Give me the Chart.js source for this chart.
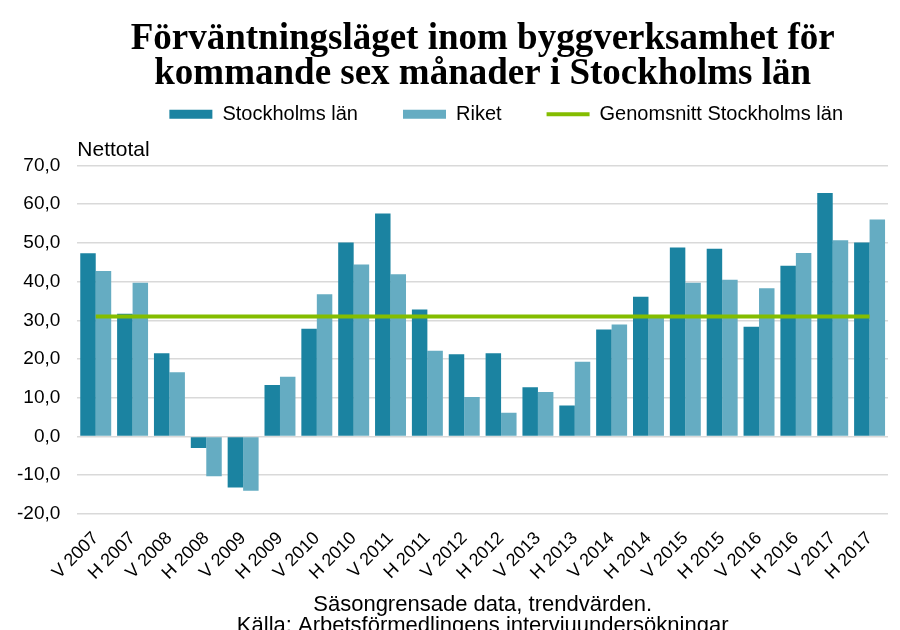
<!DOCTYPE html>
<html lang="sv">
<head>
<meta charset="utf-8">
<title>Förväntningsläget inom byggverksamhet</title>
<script src="https://cdn.jsdelivr.net/npm/chart.js@4"></script>
<style>
  html, body { margin: 0; padding: 0; background: #fff; }
  #wrap { width: 900px; height: 630px; position: relative; }
</style>
</head>
<body>
<div id="wrap"><canvas id="byggChart"></canvas></div>
<script>
"use strict";

// halvår: V = vår, H = höst
const periods = [
  "V 2007", "H 2007", "V 2008", "H 2008", "V 2009", "H 2009",
  "V 2010", "H 2010", "V 2011", "H 2011", "V 2012", "H 2012",
  "V 2013", "H 2013", "V 2014", "H 2014", "V 2015", "H 2015",
  "V 2016", "H 2016", "V 2017", "H 2017",
];
const stockholm = [
  47.3, 31.7, 21.5, -3.0, -13.2, 13.3,
  27.8, 50.1, 57.6, 32.8, 21.2, 21.5,
  12.7, 8.0, 27.6, 36.1, 48.8, 48.5,
  28.3, 44.1, 62.9, 50.1,
];
const riket = [
  42.7, 39.7, 16.6, -10.3, -14.0, 15.4,
  36.7, 44.4, 41.9, 22.1, 10.2, 6.1,
  11.5, 19.3, 28.9, 31.2, 39.7, 40.5,
  38.3, 47.4, 50.7, 56.0,
];
const genomsnitt = [
  31.0, 31.0, 31.0, 31.0, 31.0, 31.0,
  31.0, 31.0, 31.0, 31.0, 31.0, 31.0,
  31.0, 31.0, 31.0, 31.0, 31.0, 31.0,
  31.0, 31.0, 31.0, 31.0,
];
const yTicks = [-20, -10, 0, 10, 20, 30, 40, 50, 60, 70];

const sansFont = "'Liberation Sans', Arial, sans-serif";
const ctx = document.getElementById("byggChart").getContext("2d");

new Chart(ctx, {
  type: "bar",
  data: {
    labels: periods,
    datasets: [
      {
        label: "Stockholms län",
        data: stockholm,
        backgroundColor: "#1b83a1",
        categoryPercentage: 0.84,
        barPercentage: 1.0,
        order: 2,
      },
      {
        label: "Riket",
        data: riket,
        backgroundColor: "#65acc2",
        categoryPercentage: 0.84,
        barPercentage: 1.0,
        order: 2,
      },
      {
        type: "line",
        label: "Genomsnitt Stockholms län",
        data: genomsnitt,
        borderColor: "#84bd00",
        backgroundColor: "#84bd00",
        borderWidth: 4,
        pointRadius: 0,
        fill: false,
        order: 1,
      },
    ],
  },
  options: {
    responsive: true,
    maintainAspectRatio: false,
    animation: false,
    layout: { padding: { left: 0, right: 12, top: 10, bottom: 0 } },
    plugins: {
      title: {
        display: true,
        fullSize: false,
        text: ["Förväntningsläget inom byggverksamhet för", "kommande sex månader i Stockholms län"],
        color: "#000",
        font: { family: "'Liberation Serif', 'Times New Roman', serif", size: 37, weight: "bold", lineHeight: 0.95 },
        padding: { top: 12, bottom: -33 },
      },
      subtitle: {
        display: true,
        text: "Nettotal",
        align: "start",
        fullSize: false,
        weight: 500,
        color: "#000",
        font: { family: sansFont, size: 21, lineHeight: 1.1 },
        padding: { top: 4, bottom: 4 },
      },
      legend: {
        position: "top",
        align: "end",
        fullSize: false,
        labels: {
          color: "#000",
          font: { family: sansFont, size: 20 },
          usePointStyle: true,
          pointStyleWidth: 43,
          boxHeight: 9,
          padding: 45,
          sort: (a, b) => a.datasetIndex - b.datasetIndex,
          generateLabels: function (chart) {
            const items = Chart.defaults.plugins.legend.labels.generateLabels(chart);
            items.forEach(function (item) {
              const ds = chart.data.datasets[item.datasetIndex];
              if (ds.type === "line") {
                item.pointStyle = "line";
                item.strokeStyle = ds.borderColor;
                item.lineWidth = 4;
              } else {
                item.pointStyle = "rect";
                item.lineWidth = 0;
              }
            });
            return items;
          },
        },
      },
      tooltip: { enabled: false },
    },
    scales: {
      x: {
        grid: { display: false },
        border: { display: false },
        ticks: {
          color: "#000",
          font: { family: sansFont, size: 18 },
          maxRotation: 45,
          minRotation: 45,
          autoSkip: false,
          padding: 6,
        },
        title: {
          display: true,
          text: ["Säsongrensade data, trendvärden.", "Källa: Arbetsförmedlingens intervjuundersökningar"],
          color: "#000",
          font: { family: sansFont, size: 22, lineHeight: 0.95 },
          padding: { top: 4, bottom: -6 },
        },
      },
      y: {
        min: -20,
        max: 70,
        afterBuildTicks: function (axis) {
          axis.ticks = yTicks.map((v) => ({ value: v }));
        },
        grid: { color: "#d9d9d9", lineWidth: 1.5, drawTicks: false },
        border: { display: false },
        ticks: {
          color: "#000",
          padding: 17,
          font: { family: sansFont, size: 19 },
          callback: (v) => v.toFixed(1).replace(".", ","),
        },
      },
    },
  },
});
</script>
</body>
</html>
